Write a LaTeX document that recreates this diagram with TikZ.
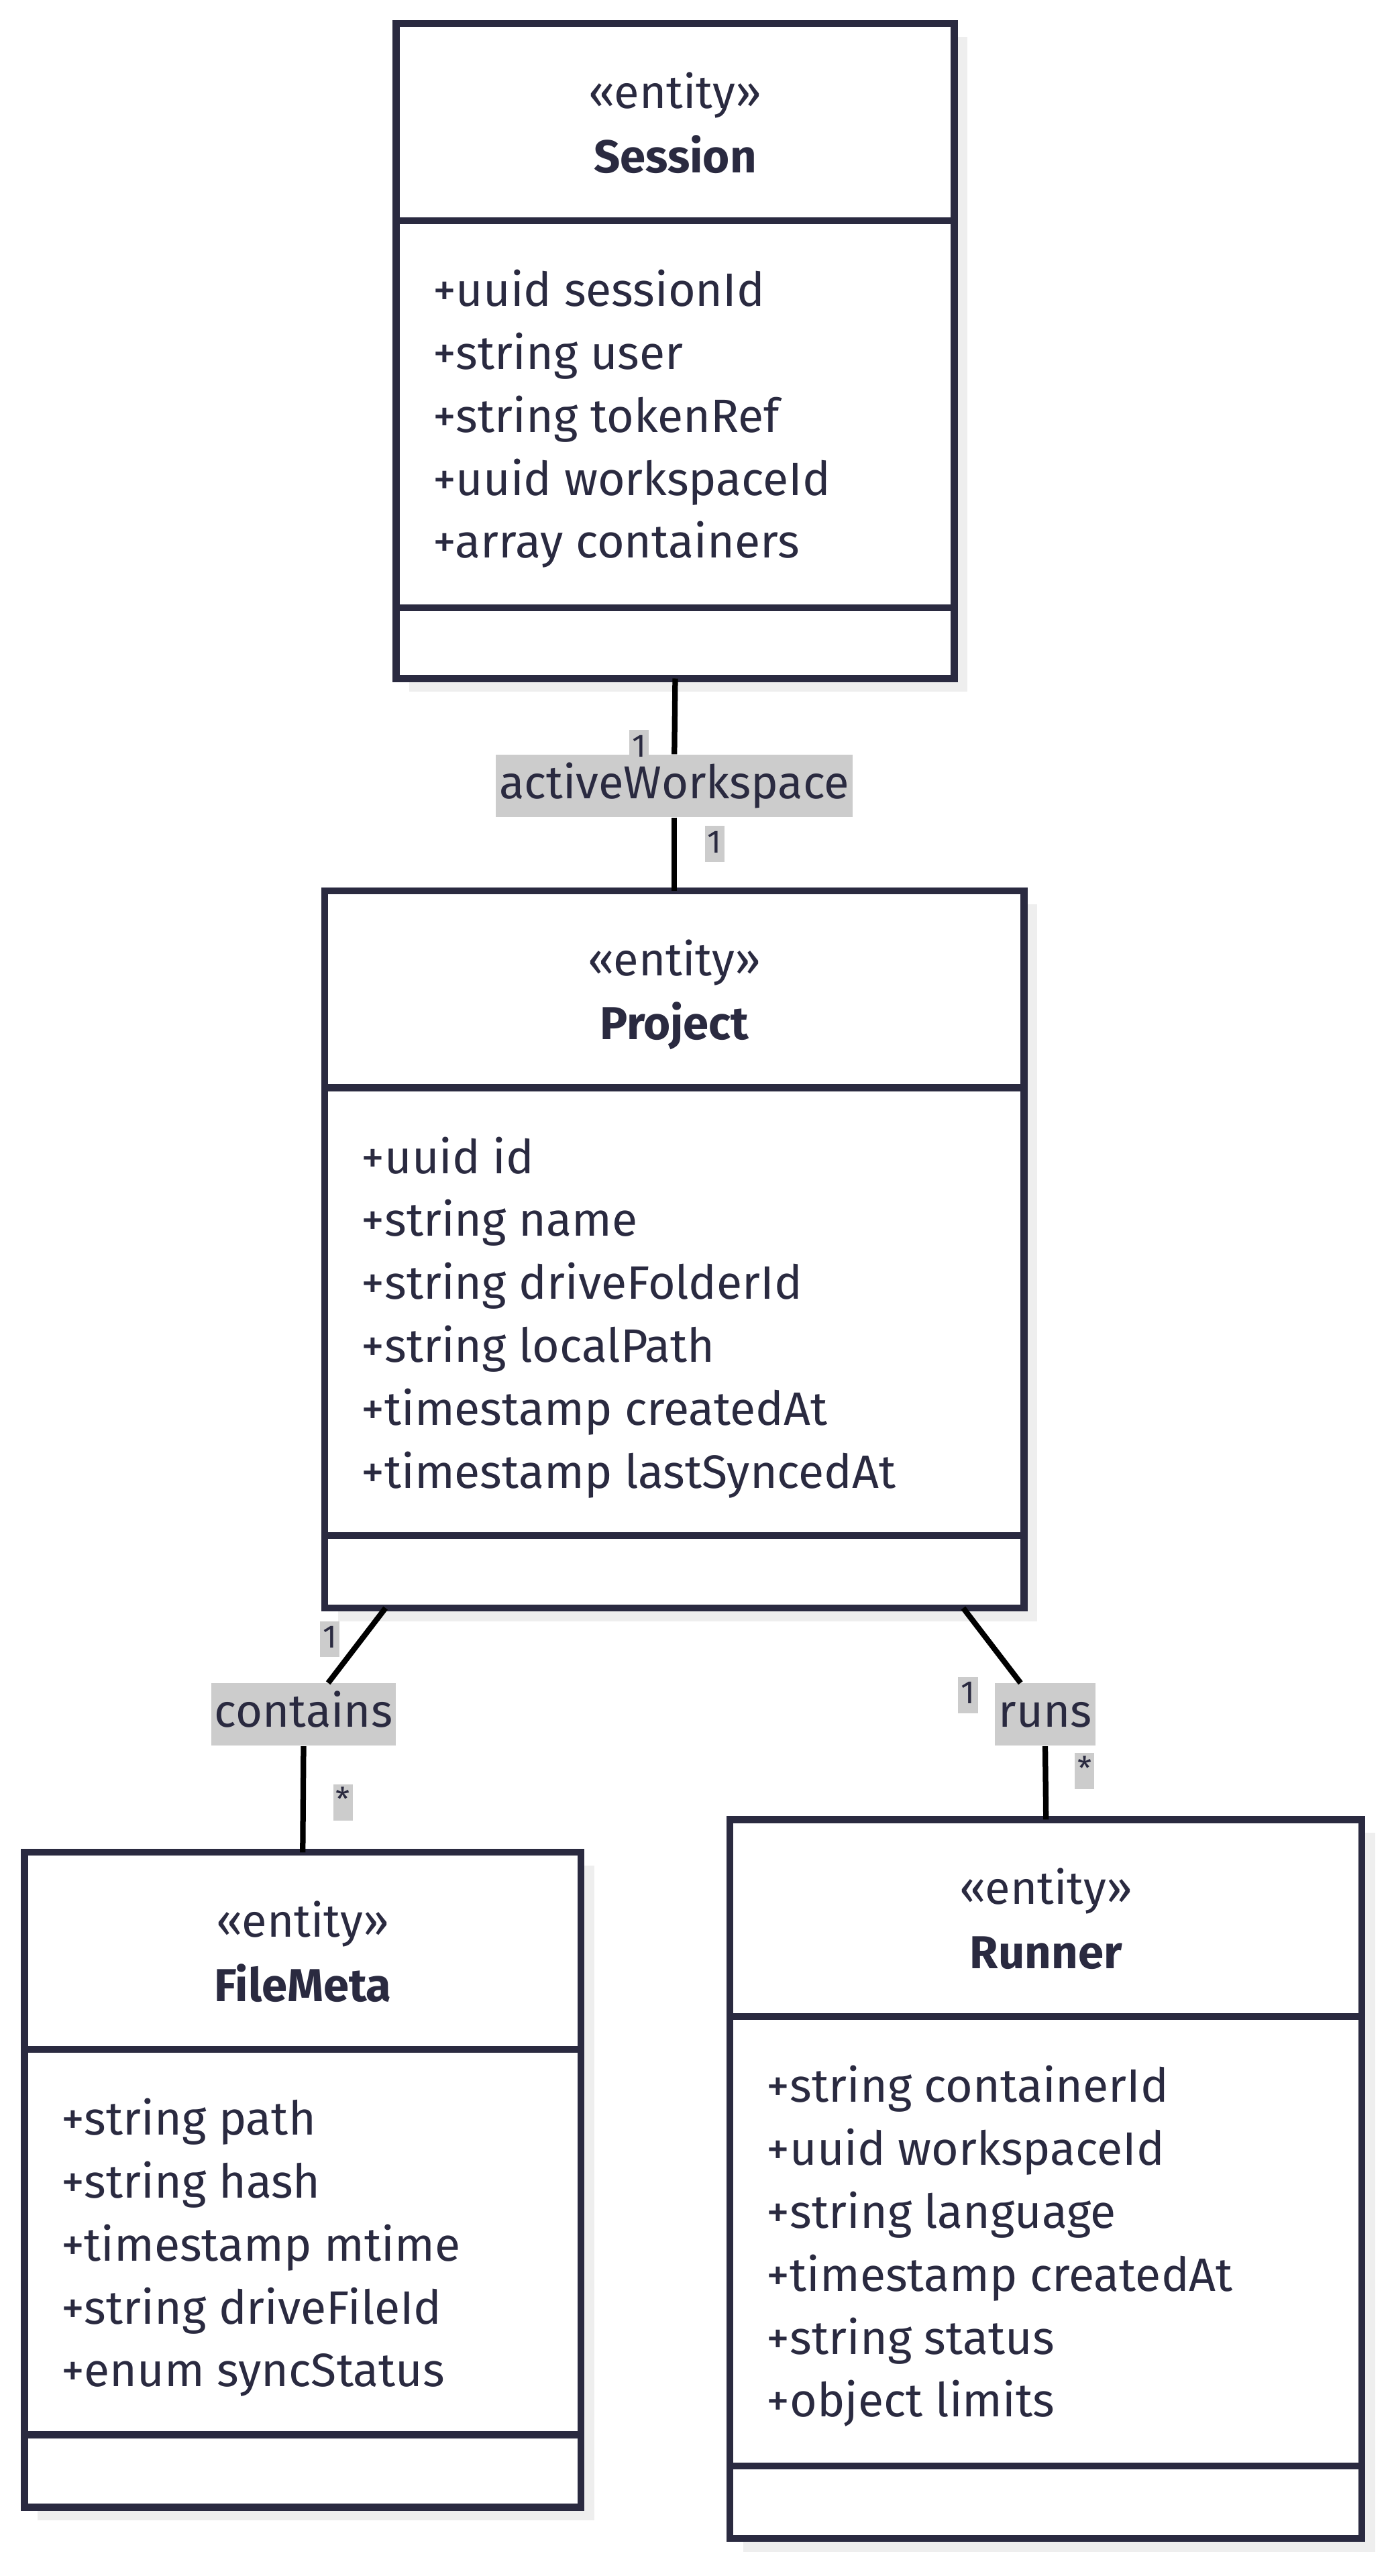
\documentclass[tikz,border=0pt]{standalone}
\usepackage{fontspec}
\setmainfont{Fira Sans}
\usetikzlibrary{positioning,calc,shadows}

\definecolor{umlink}{HTML}{2A2A40}
\definecolor{labelgray}{HTML}{CCCCCC}
\definecolor{shadowgray}{HTML}{EEEEEE}

\begin{document}
\begin{tikzpicture}[
    x=0.025cm, y=-0.025cm,
    entity/.style={rectangle, draw=umlink, line width=3pt, fill=white, inner sep=0pt, outer sep=0pt,
        drop shadow={shadow xshift=0.2cm, shadow yshift=-0.2cm, fill=shadowgray, opacity=1}},
    divider/.style={draw=umlink, line width=3pt},
    stereotype/.style={anchor=base, inner sep=0pt, text=umlink, font=\fontsize{20}{24}\selectfont},
    classname/.style={anchor=base, inner sep=0pt, text=umlink, font=\fontsize{20}{24}\selectfont\bfseries},
    fields/.style={anchor=north west, inner sep=0pt, align=left, text=umlink, font=\fontsize{20.3}{27.3}\selectfont},
    assoc/.style={draw=black, line width=2.4pt},
    rolename/.style={fill=labelgray, text=umlink, inner xsep=1.5pt, inner ysep=0pt, minimum height=0.95cm,
        text height=14pt, text depth=3pt, font=\fontsize{20}{24}\selectfont},
    multiplicity/.style={fill=labelgray, text=umlink, inner sep=0pt, minimum width=0.3cm, minimum height=0.55cm,
        text height=10pt, text depth=2.5pt, font=\fontsize{14}{16}\selectfont}
]
\useasboundingbox (0,0) rectangle (848,1570);

% Session
\node[entity, minimum width=8.5cm, minimum height=9.975cm] (session) at (411.5,214) {};
\draw[divider] ($(session.north west)+(0,120)$) -- ($(session.north east)+(0,120)$);
\draw[divider] ($(session.north west)+(0,356)$) -- ($(session.north east)+(0,356)$);
\node[stereotype] (sessionst) at ($(session.north)+(0,51.7)$) {«entity»};
\node[classname] (sessionname) at ($(session.north)+(0,90.7)$) {Session};
\node[fields] (sessionattr) at ($(session.north west)+(22,145)$)
    {\strut+uuid sessionId\\+string user\\+string tokenRef\\+uuid workspaceId\\+array containers};

% Project
\node[entity, minimum width=10.65cm, minimum height=10.925cm] (project) at (411,761.5) {};
\draw[divider] ($(project.north west)+(0,120)$) -- ($(project.north east)+(0,120)$);
\draw[divider] ($(project.north west)+(0,393)$) -- ($(project.north east)+(0,393)$);
\node[stereotype] (projectst) at ($(project.north)+(0,51.7)$) {«entity»};
\node[classname] (projectname) at ($(project.north)+(0,90.7)$) {Project};
\node[fields] (projectattr) at ($(project.north west)+(22,145)$)
    {\strut+uuid id\\+string name\\+string driveFolderId\\+string localPath\\+timestamp createdAt\\+timestamp lastSyncedAt};

% FileMeta
\node[entity, minimum width=8.475cm, minimum height=9.975cm] (filemeta) at (184.5,1328.5) {};
\draw[divider] ($(filemeta.north west)+(0,120)$) -- ($(filemeta.north east)+(0,120)$);
\draw[divider] ($(filemeta.north west)+(0,355)$) -- ($(filemeta.north east)+(0,355)$);
\node[stereotype] (filemetast) at ($(filemeta.north)+(0,51.7)$) {«entity»};
\node[classname] (filemetaname) at ($(filemeta.north)+(0,90.7)$) {FileMeta};
\node[fields] (filemetaattr) at ($(filemeta.north west)+(22,145)$)
    {\strut+string path\\+string hash\\+timestamp mtime\\+string driveFileId\\+enum syncStatus};

% Runner
\node[entity, minimum width=9.625cm, minimum height=10.95cm] (runner) at (637.5,1328) {};
\draw[divider] ($(runner.north west)+(0,120)$) -- ($(runner.north east)+(0,120)$);
\draw[divider] ($(runner.north west)+(0,394)$) -- ($(runner.north east)+(0,394)$);
\node[stereotype] (runnerst) at ($(runner.north)+(0,51.7)$) {«entity»};
\node[classname] (runnername) at ($(runner.north)+(0,90.7)$) {Runner};
\node[fields] (runnerattr) at ($(runner.north west)+(22,145)$)
    {\strut+string containerId\\+uuid workspaceId\\+string language\\+timestamp createdAt\\+string status\\+object limits};

% Session -- Project
\node[rolename] (wsrole) at (411,479) {activeWorkspace};
\draw[assoc] (session.south) -- (wsrole.north);
\draw[assoc] (wsrole.south) -- (project.north);
\node[multiplicity] (wsfrom) at (389.5,456) {1};
\node[multiplicity] (wsto) at (435.5,514.5) {1};

% Project -- FileMeta
\node[rolename] (containsrole) at (185,1045) {contains};
\draw[assoc] ($(project.south west)+(37,0)$) -- ($(containsrole.north)+(15,0)$);
\draw[assoc] (containsrole.south) -- (filemeta.north);
\node[multiplicity] (containsfrom) at (201,999) {1};
\node[multiplicity] (containsto) at (209,1098.5) {*};

% Project -- Runner
\node[rolename] (runsrole) at (637,1045) {runs};
\draw[assoc] ($(project.south east)+(-37,0)$) -- ($(runsrole.north)+(-15,0)$);
\draw[assoc] (runsrole.south) -- (runner.north);
\node[multiplicity] (runsfrom) at (590,1033) {1};
\node[multiplicity] (runsto) at (661,1079.5) {*};

\end{tikzpicture}
\end{document}
